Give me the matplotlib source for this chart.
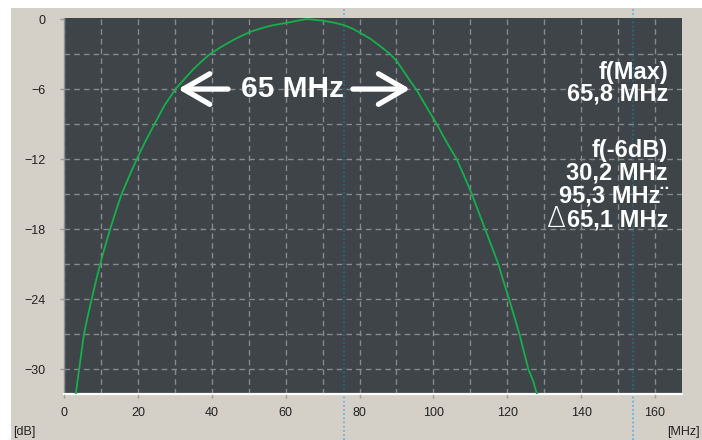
import matplotlib
matplotlib.use("Agg")

import matplotlib.pyplot as plt
from matplotlib.lines import Line2D
from matplotlib.patches import Rectangle

plt.rcParams["font.family"] = ["Liberation Sans", "DejaVu Sans"]

# Filter response, level relative to the maximum
freq_mhz = [3.2, 4.1, 5.4, 6.4, 7.5, 8.6, 9.8, 11.1, 12.5, 14.0, 15.6, 17.6,
            19.7, 22.0, 24.5, 27.2, 30.2, 33.0, 35.0, 37.0, 39.5, 42.5, 45.8,
            48.0, 50.4, 52.5, 55.0, 57.0, 59.4, 61.5, 63.0, 64.5, 65.8, 67.5,
            70.2, 73.0, 75.6, 78.0, 80.0, 82.8, 85.5, 88.3, 90.2, 92.0, 93.7,
            95.3, 98.0, 100.9, 103.5, 106.3, 108.4, 110.4, 112.2, 114.0,
            115.8, 117.6, 119.0, 120.5, 121.9, 123.3, 124.5, 125.7, 127.0,
            128.0]
level_db = [-32.1, -30.0, -27.0, -25.5, -24.0, -22.5, -21.0, -19.5, -18.0,
            -16.5, -15.0, -13.5, -12.0, -10.5, -9.0, -7.4, -6.0, -5.0, -4.3,
            -3.7, -3.0, -2.4, -1.8, -1.45, -1.1, -0.88, -0.65, -0.5, -0.37,
            -0.25, -0.15, -0.06, 0.0, -0.05, -0.15, -0.3, -0.5, -0.8, -1.15,
            -1.66, -2.3, -3.0, -3.65, -4.5, -5.3, -6.0, -7.45, -9.0, -10.5,
            -12.0, -13.5, -15.0, -16.5, -18.0, -19.5, -21.0, -22.5, -24.0,
            -25.5, -27.0, -28.5, -30.0, -31.0, -32.1]

x_ticks = [0, 20, 40, 60, 80, 100, 120, 140, 160]
y_ticks = [0, -6, -12, -18, -24, -30]
x_grid = list(range(0, 170, 10))
y_grid = [-3, -6, -9, -12, -15, -18, -21, -24, -27, -30]

f_lo, f_hi = 30.2, 95.3
cursors = [75.8, 154.0]
info_lines = ["f(Max)", "65,8 MHz", "f(-6dB)", "30,2 MHz",
              "95,3 MHz\u00a8", "65,1 MHz"]
info_rows = [72, 94, 150, 173, 196, 220]   # pixel rows from the top

BG = "#d4d0c8"
FACE = "#3f4448"
GRID = "#868a8e"
W, H = 702, 440

fig = plt.figure(figsize=(7.02, 4.40), dpi=100, facecolor=BG)
# white margin of the window capture
fig.add_artist(Rectangle((0, 1 - 8 / H), 1, 8 / H, transform=fig.transFigure,
                         facecolor="white", edgecolor="none", zorder=-5))
fig.add_artist(Rectangle((0, 0), 11 / W, 1, transform=fig.transFigure,
                         facecolor="white", edgecolor="none", zorder=-5))

ax = fig.add_axes([64 / W, 46 / H, 618 / W, 376 / H])
ax.set_facecolor(FACE)
ax.set_xlim(0, 167.3)
ax.set_ylim(-32.13, 0.09)

for gx in x_grid:
    ax.axvline(gx, color=GRID, lw=1, ls=(0, (4, 3)), zorder=1)
for gy in y_grid:
    ax.axhline(gy, color=GRID, lw=1, ls=(0, (4, 3)), zorder=1)

# marker cursors: light on the frame, darker over the plot area
for c in cursors:
    xf = (64 + 618 * c / 167.3) / W
    fig.add_artist(Line2D([xf, xf], [0, 1 - 8 / H], transform=fig.transFigure,
                          color="#5aaee0", lw=1.2, ls=(0, (1, 1.5)), zorder=-1))
    ax.axvline(c, color="#1f6f92", lw=1.2, ls=(0, (1, 1.5)), zorder=2)

ax.plot(freq_mhz, level_db, color="#14b04c", lw=1.3, zorder=3)

ax.set_xticks(x_ticks)
ax.set_yticks(y_ticks)
ax.tick_params(axis="both", labelsize=9, labelcolor="#222222", color="#9a9a9a",
               length=3, width=1)
ax.tick_params(axis="y", pad=10)
ax.tick_params(axis="x", pad=6)
for side in ("top", "right"):
    ax.spines[side].set_visible(False)
ax.spines["bottom"].set_color("white")
ax.spines["bottom"].set_linewidth(1.6)
ax.spines["left"].set_color("#8a8e92")
ax.spines["left"].set_linewidth(1.0)

fig.text(13 / W, 1 - 432 / H, "[dB]", fontsize=9, color="#222222",
         ha="left", va="center")
fig.text(700 / W, 1 - 432 / H, "[MHz]", fontsize=9, color="#222222",
         ha="right", va="center")

# -6 dB bandwidth arrows
arrow = dict(arrowstyle="->, head_length=0.95, head_width=0.55", color="white",
             lw=3.8, mutation_scale=20, shrinkA=0, shrinkB=0)
ax.annotate("", xy=(f_lo + 0.7, -6), xytext=(44.4, -6), arrowprops=arrow, zorder=4)
ax.annotate("", xy=(f_hi - 1.6, -6), xytext=(78.2, -6), arrowprops=arrow, zorder=4)
ax.text(61.9, -6, "65 MHz", color="white", fontsize=21.5, fontweight="bold",
        ha="center", va="center", zorder=4)

texts = []
for line, row in zip(info_lines, info_rows):
    texts.append(fig.text(668 / W, 1 - row / H, line, color="white", fontsize=17,
                          fontweight="bold", ha="right", va="center", zorder=5))

# thin outlined delta in front of the bandwidth value
renderer = fig.canvas.get_renderer()
left_px = texts[-1].get_window_extent(renderer).x0
fig.text((left_px - 1) / W, 1 - (info_rows[-1] - 1) / H, "\u0394", color="white",
         fontsize=20, family="DejaVu Sans", fontweight="light",
         ha="right", va="center", zorder=5)

fig.savefig("out.png", dpi=100, facecolor=BG)
